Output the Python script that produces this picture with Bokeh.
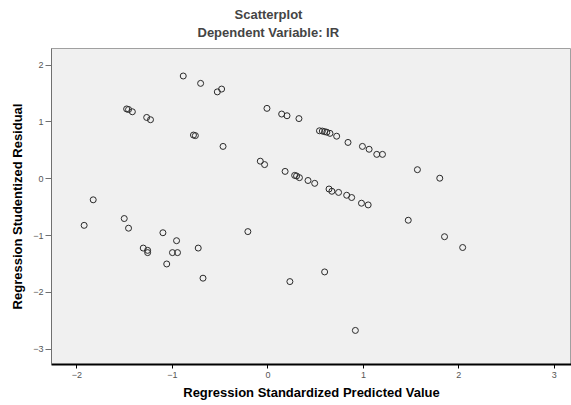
from bokeh.plotting import figure
from bokeh.models import Range1d, FixedTicker, Title
from bokeh.embed import file_html
from bokeh.resources import INLINE

pred = [-0.887, -0.705, -0.53, -0.485, -1.48, -1.46, -1.42, -1.27, -1.23, -0.78,
        -0.76, -0.47, -1.83, -0.01, 0.144, 0.20, 0.325, 0.54, 0.57, 0.594,
        0.617, 0.65, 0.72, 0.839, 0.99, 1.06, 1.14, 1.20, -0.08, -0.035,
        0.18, 0.28, 0.30, 0.33, 0.42, 0.49, 0.64, 0.67, 0.74, 0.825,
        0.877, 0.98, 1.05, 1.566, 1.80, -1.925, -1.505, -1.46, -1.10, -0.957,
        -1.306, -1.26, -1.26, -1.0, -0.947, -0.73, -1.06, -0.68, -0.21, 0.23,
        0.594, 0.916, 1.47, 1.85, 2.04]
resid = [1.81, 1.68, 1.53, 1.58, 1.23, 1.22, 1.18, 1.08, 1.04, 0.77,
         0.76, 0.57, -0.37, 1.24, 1.14, 1.11, 1.06, 0.845, 0.84, 0.83,
         0.82, 0.80, 0.75, 0.64, 0.57, 0.52, 0.43, 0.43, 0.31, 0.25,
         0.13, 0.06, 0.05, 0.02, -0.03, -0.08, -0.18, -0.22, -0.24, -0.29,
         -0.33, -0.43, -0.46, 0.16, 0.01, -0.82, -0.70, -0.87, -0.95, -1.09,
         -1.22, -1.26, -1.30, -1.30, -1.30, -1.22, -1.50, -1.75, -0.93, -1.81,
         -1.64, -2.67, -0.73, -1.02, -1.21]

x_ticks = [-2, -1, 0, 1, 2, 3]
y_ticks = [-3, -2, -1, 0, 1, 2]

title_text = "Scatterplot"
subtitle_text = "Dependent Variable: IR"
x_label = "Regression Standardized Predicted Value"
y_label = "Regression Studentized Residual"

FONT = "Liberation Sans"

p = figure(width=571, height=405, output_backend="svg", toolbar_location=None,
           x_range=Range1d(-2.267, 3.18), y_range=Range1d(-3.27, 2.294),
           min_border_left=51, min_border_top=48, min_border_bottom=41, min_border_right=0,
           title=title_text)
p.title.align = "left"
p.title.offset = 183
p.title.text_font = FONT
p.title.text_font_size = "13px"
p.title.text_font_style = "bold"
p.title.standoff = -16
p.add_layout(Title(text=subtitle_text, align="left", offset=146, text_font=FONT,
                   text_font_size="13px", text_font_style="bold", standoff=18), "above")

p.background_fill_color = "#f0f0f0"
p.border_fill_color = "white"
p.outline_line_color = "#a0a0a0"
p.outline_line_width = 1
p.grid.visible = False

p.scatter(pred, resid, marker="circle", size=6, fill_color=None,
          line_color="#2a2a2a", line_width=1)

for ax, ticks in ((p.xaxis[0], x_ticks), (p.yaxis[0], y_ticks)):
    ax.ticker = FixedTicker(ticks=ticks)
    ax.minor_tick_line_color = None
    ax.major_tick_in = 0
    ax.major_label_text_font = FONT
    ax.major_label_text_font_size = "9px"
    ax.major_label_text_color = "#555555"
    ax.axis_label_text_font = FONT
    ax.axis_label_text_font_size = "13px"
    ax.axis_label_text_font_style = "bold"
    ax.axis_label_text_color = "black"

p.xaxis.axis_label = x_label
p.xaxis.axis_line_color = "black"
p.xaxis.axis_line_width = 2
p.xaxis.major_tick_out = 4
p.xaxis.major_tick_line_color = "black"
p.xaxis.major_label_standoff = 3
p.xaxis.axis_label_standoff = 4

p.yaxis.axis_label = y_label
p.yaxis.axis_line_color = "#707070"
p.yaxis.axis_line_width = 1
p.yaxis.major_tick_out = 6
p.yaxis.major_tick_line_color = "#707070"
p.yaxis.major_label_standoff = 2
p.yaxis.axis_label_standoff = 5

open("out.html", "w").write(file_html(p, INLINE))
